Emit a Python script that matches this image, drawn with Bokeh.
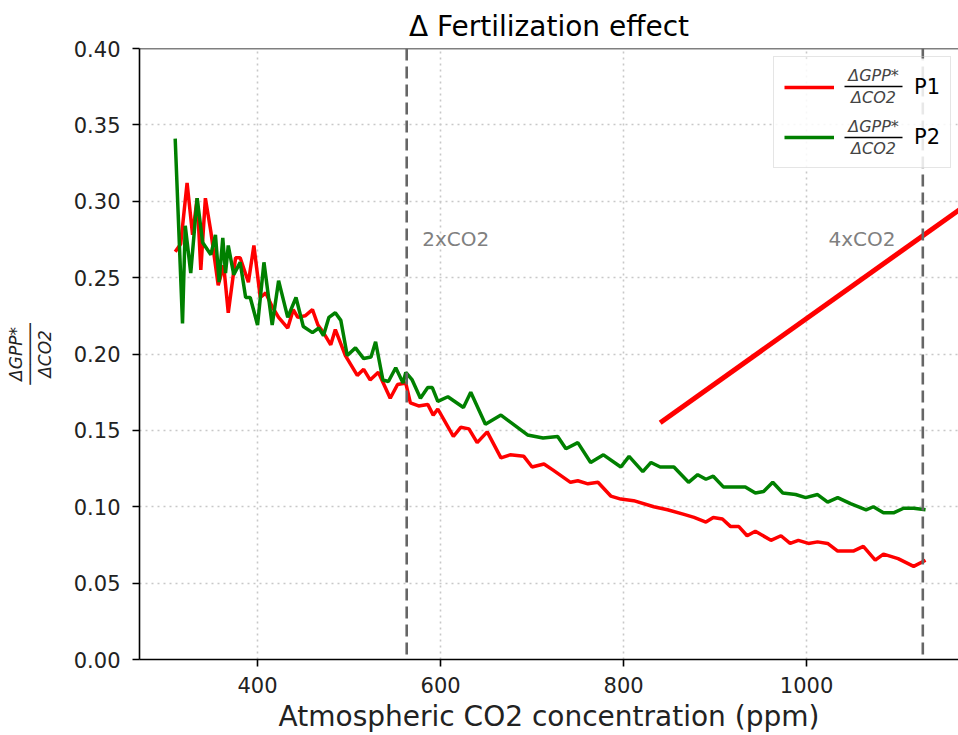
from bokeh.plotting import figure
from bokeh.models import (Label, Arrow, Span, Legend, LegendItem, FixedTicker,
                          NumeralTickFormatter, BoxAnnotation)
from bokeh.embed import file_html
from bokeh.resources import INLINE

# ---------------- data ----------------
p1_co2 = [310, 316, 323, 329, 334, 338, 343, 349, 357, 363, 368, 376, 381, 390, 396,
          403, 409, 416, 423, 433, 439, 444, 452, 460, 466, 472, 480, 485, 496, 509,
          516, 523, 532, 545, 553, 562, 567, 576, 586, 592, 597, 614, 622, 631, 640,
          651, 666, 676, 691, 700, 713, 723, 742, 750, 761, 772, 786, 797, 811, 833,
          848, 866, 877, 890, 898, 908, 917, 926, 935, 944, 961, 972, 982, 991, 1002,
          1012, 1023, 1034, 1051, 1062, 1075, 1084, 1100, 1117, 1130]
p1_fert = [0.267, 0.272, 0.312, 0.278, 0.302, 0.255, 0.302, 0.280, 0.245, 0.258,
           0.227, 0.263, 0.263, 0.247, 0.271, 0.237, 0.240, 0.231, 0.224, 0.217,
           0.229, 0.224, 0.225, 0.229, 0.219, 0.214, 0.206, 0.216, 0.199, 0.186,
           0.190, 0.183, 0.188, 0.171, 0.180, 0.181, 0.168, 0.166, 0.167, 0.160,
           0.164, 0.146, 0.152, 0.151, 0.142, 0.149, 0.132, 0.134, 0.133, 0.126,
           0.128, 0.124, 0.116, 0.117, 0.115, 0.116, 0.107, 0.105, 0.104, 0.100,
           0.098, 0.095, 0.093, 0.090, 0.093, 0.092, 0.087, 0.087, 0.081, 0.084,
           0.078, 0.081, 0.076, 0.078, 0.076, 0.077, 0.076, 0.071, 0.071, 0.074,
           0.065, 0.069, 0.066, 0.061, 0.065]

p2_co2 = [310, 318, 321, 327, 334, 340, 349, 354, 358, 362, 365, 368, 374, 381, 387,
          392, 400, 407, 416, 423, 433, 442, 450, 460, 467, 472, 478, 485, 491, 498,
          507, 516, 524, 529, 537, 543, 551, 559, 562, 569, 578, 586, 591, 597, 608,
          625, 633, 649, 666, 684, 695, 712, 728, 737, 750, 764, 778, 797, 806, 821,
          830, 840, 855, 871, 881, 890, 898, 909, 920, 933, 944, 953, 963, 974, 988,
          999, 1012, 1023, 1034, 1048, 1065, 1073, 1084, 1095, 1106, 1117, 1130]
p2_fert = [0.341, 0.220, 0.284, 0.253, 0.302, 0.273, 0.265, 0.278, 0.247, 0.276,
           0.253, 0.271, 0.252, 0.260, 0.237, 0.237, 0.219, 0.260, 0.219, 0.248,
           0.224, 0.237, 0.218, 0.214, 0.217, 0.212, 0.224, 0.227, 0.222, 0.199,
           0.204, 0.197, 0.198, 0.208, 0.183, 0.182, 0.191, 0.181, 0.188, 0.183,
           0.171, 0.178, 0.178, 0.169, 0.172, 0.165, 0.175, 0.154, 0.160, 0.152,
           0.147, 0.145, 0.146, 0.138, 0.142, 0.129, 0.134, 0.126, 0.133, 0.123,
           0.129, 0.126, 0.126, 0.116, 0.121, 0.118, 0.120, 0.113, 0.113, 0.113,
           0.109, 0.110, 0.116, 0.109, 0.108, 0.106, 0.108, 0.103, 0.106, 0.102,
           0.098, 0.100, 0.096, 0.096, 0.099, 0.099, 0.098]

co2_doubling = 563
co2_quadrupling = 1127
x_ticks = [400, 600, 800, 1000]
y_ticks = [0.00, 0.05, 0.10, 0.15, 0.20, 0.25, 0.30, 0.35, 0.40]
series_labels = ["P1", "P2"]
marker_labels = ["2xCO2", "4xCO2"]
marker_label_pos = [(580, 0.2756), (1024, 0.2756)]
pointer_x = [840, 1180]
pointer_y = [0.155, 0.300]

FONT = "DejaVu Sans"

p = figure(width=958, height=735, x_range=(271, 1166), y_range=(0, 0.40),
           output_backend="svg", toolbar_location=None,
           min_border_left=139, min_border_right=0, min_border_top=48,
           min_border_bottom=74, title="Δ Fertilization effect")
p.outline_line_color = None
p.background_fill_color = "white"
p.border_fill_color = "white"

# title
p.title.text_font = FONT
p.title.text_font_size = "28px"
p.title.text_font_style = "normal"
p.title.text_color = "#000000"
p.title.align = "center"
p.title.standoff = 12

# axes
for ax in (p.xaxis, p.yaxis):
    ax.major_label_text_font = FONT
    ax.major_label_text_font_size = "21px"
    ax.major_label_text_color = "#222222"
    ax.axis_line_width = 1.6
    ax.axis_line_color = "#000000"
    ax.major_tick_line_width = 1.6
    ax.major_tick_line_color = "#000000"
    ax.major_tick_out = 7
    ax.major_tick_in = 0
    ax.minor_tick_line_color = None
p.xaxis.major_label_standoff = 10
p.yaxis.major_label_standoff = 12
p.xaxis.ticker = FixedTicker(ticks=x_ticks)
p.yaxis.ticker = FixedTicker(ticks=y_ticks)
p.yaxis.formatter = NumeralTickFormatter(format="0.00")
p.xaxis.axis_label = "Atmospheric CO2 concentration (ppm)"
p.xaxis.axis_label_text_font = FONT
p.xaxis.axis_label_text_font_size = "28px"
p.xaxis.axis_label_text_font_style = "normal"
p.xaxis.axis_label_text_color = "#222222"
p.xaxis.axis_label_standoff = 4

# y label: stacked fraction
p.yaxis.axis_label = "ΔGPP*\n──────\nΔCO2"
p.yaxis.axis_label_text_font = FONT
p.yaxis.axis_label_text_font_size = "17px"
p.yaxis.axis_label_text_font_style = "italic"
p.yaxis.axis_label_text_color = "#222222"
p.yaxis.axis_label_text_line_height = 0.72
p.yaxis.axis_label_standoff = 16

# grid
for g in (p.xgrid, p.ygrid):
    g.grid_line_color = "#c8c8c8"
    g.grid_line_dash = "2 4"
    g.grid_line_width = 1.6
p.xgrid.ticker = FixedTicker(ticks=x_ticks)
p.ygrid.ticker = FixedTicker(ticks=y_ticks)

# top spine
p.add_layout(Span(location=0.40, dimension="width", line_color="#000000",
                  line_width=1.6))

# reference lines
for loc in (co2_doubling, co2_quadrupling):
    p.add_layout(Span(location=loc, dimension="height", line_color="#666666",
                      line_width=2.6, line_dash="12 6"))
for txt, (lx, ly) in zip(marker_labels, marker_label_pos):
    p.add_layout(Label(x=lx, y=ly, text=txt, text_font=FONT, text_font_size="20px",
                       text_color="#808080", text_align="left",
                       text_baseline="middle"))

# series
r1 = p.line(p1_co2, p1_fert, line_color="#ff0000", line_width=3.5)
r2 = p.line(p2_co2, p2_fert, line_color="#008000", line_width=3.5)

# pointer line
p.line(pointer_x, pointer_y, line_color="#ff0000", line_width=5)

# legend background (semi-opaque) drawn beneath the fraction texts
p.add_layout(BoxAnnotation(left=634, right=816, bottom=491, top=601,
                           left_units="screen", right_units="screen",
                           bottom_units="screen", top_units="screen",
                           fill_color="white", fill_alpha=0.85,
                           line_color=None))

# legend
legend = Legend(items=[LegendItem(label=series_labels[0], renderers=[r1]),
                       LegendItem(label=series_labels[1], renderers=[r2])],
                location=(634, 491), padding=10, spacing=10, margin=0,
                glyph_width=50, glyph_height=40, label_height=40,
                label_standoff=80, label_text_font=FONT,
                label_text_font_size="21px", label_text_color="#000000",
                border_line_color="#cccccc", border_line_width=1.5,
                background_fill_alpha=0)
p.add_layout(legend)


def frac(xc, yc, bar_half, gap, size):
    """fraction ΔGPP*/ΔCO2 at screen coords (relative to frame)."""
    p.add_layout(Label(x=xc, y=yc + gap, x_units="screen", y_units="screen",
                       text="ΔGPP*", text_font=FONT, text_font_size=size,
                       text_font_style="italic", text_align="center",
                       text_baseline="middle", level="overlay"))
    p.add_layout(Label(x=xc, y=yc - gap, x_units="screen", y_units="screen",
                       text="ΔCO2", text_font=FONT, text_font_size=size,
                       text_font_style="italic", text_align="center",
                       text_baseline="middle", level="overlay"))
    p.add_layout(Arrow(x_start=xc - bar_half, y_start=yc, x_end=xc + bar_half,
                       y_end=yc, start_units="screen", end_units="screen",
                       start=None, end=None, line_width=1.4,
                       line_color="#000000", level="overlay"))


frac(734, 573, 29, 11, "16px")
frac(734, 522, 29, 11, "16px")

open("out.html", "w").write(file_html(p, INLINE))
